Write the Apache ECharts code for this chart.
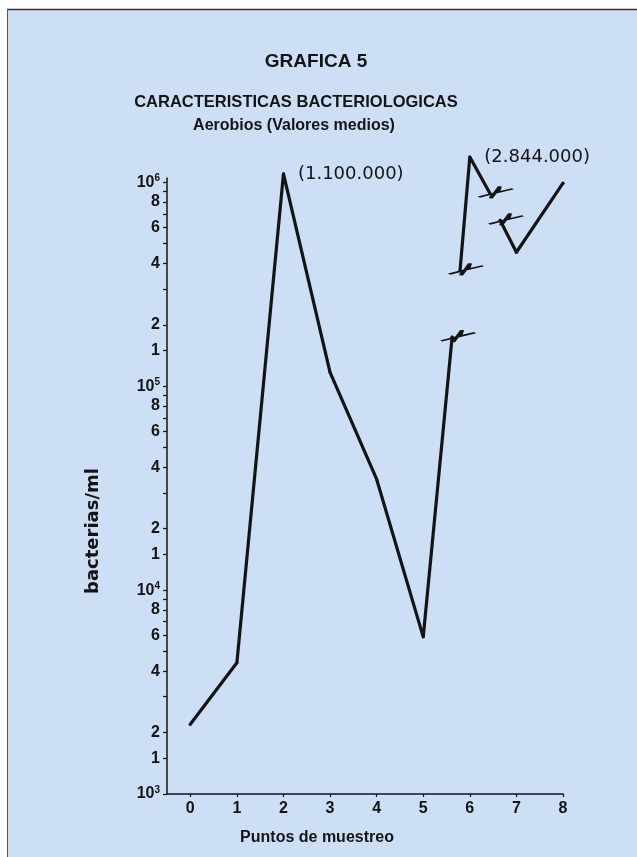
<!DOCTYPE html>
<html><head><meta charset="utf-8">
<script src="https://cdn.jsdelivr.net/npm/echarts@6/dist/echarts.min.js"></script>
<style>html,body{margin:0;padding:0;background:#fff}#c{width:637px;height:857px}</style>
</head><body><div id="c"></div>
<script>
// ---- data ----
const mainX = [0, 1, 2, 3, 4, 5, 5.62];
const mainY = [2200, 4400, 1100000, 117000, 35000, 5900, 174000];
const upperX = [5.79, 6, 6.43];
const upperY = [370000, 1330000, 883000];
const rightX = [6.65, 7, 8];
const rightY = [651000, 454000, 990000];
const breakX = [5.62, 5.79, 6.43, 6.65];
const breakY = [174000, 370000, 883000, 651000];
const peakText = ['(1.100.000)', '(2.844.000)'];
const xTicks = [0, 1, 2, 3, 4, 5, 6, 7, 8];
const yTickValues = [1000,1500,2000,3000,4000,5000,6000,7000,8000,9000,
  10000,15000,20000,30000,40000,50000,60000,70000,80000,90000,
  100000,150000,200000,300000,400000,500000,600000,700000,800000,900000,1000000];
const yLabelValues = [1000,1500,2000,4000,6000,8000,10000,15000,20000,40000,60000,80000,
  100000,150000,200000,400000,600000,800000,1000000];
const yLabelTexts = ['10^3','1','2','4','6','8','10^4','1','2','4','6','8',
  '10^5','1','2','4','6','8','10^6'];

const INK = '#141414';
const FONT = '"Liberation Sans", Arial, sans-serif';

const lineStyle = {color: INK, width: 3.2, cap: 'round', join: 'round'};
const peakLabel = (txt) => ({
  show: true, position: 'right', distance: 13, formatter: txt,
  fontFamily: '"DejaVu Sans", sans-serif', fontSize: 18, color: INK
});

const mainData = mainX.map((x, i) => i === 2 ? {value: [x, mainY[i]], label: peakLabel(peakText[0])} : [x, mainY[i]]);
const upperData = upperX.map((x, i) => i === 1 ? {value: [x, upperY[i]], label: peakLabel(peakText[1])} : [x, upperY[i]]);
const rightData = rightX.map((x, i) => [x, rightY[i]]);
const breakData = breakX.map((x, i) => [x, breakY[i]]);

function yFmt(v) {
  let best = 0, bd = 1e9;
  yLabelValues.forEach((t, i) => {
    const d = Math.abs(Math.log10(t) - Math.log10(v));
    if (d < bd) { bd = d; best = i; }
  });
  const s = yLabelTexts[best];
  if (s.indexOf('10^') === 0) return '{b|10}{s|' + s.slice(3) + '}';
  return '{b|' + s + '}';
}

const lineBase = {
  type: 'line', showSymbol: true, symbol: 'circle', symbolSize: 3,
  itemStyle: {color: INK}, lineStyle: lineStyle, clip: false, z: 3,
  label: {show: false}, emphasis: {disabled: true}, silent: true
};

const chart = echarts.init(document.getElementById('c'), null, {renderer: 'canvas'});
chart.setOption({
  animation: false,
  backgroundColor: '#cddff4',
  grid: {left: 167, right: 74, top: 178, bottom: 63, containLabel: false},
  xAxis: {
    type: 'value', min: -0.5, max: 8,
    axisLine: {show: true, onZero: false, lineStyle: {color: INK, width: 1.5}},
    axisTick: {show: true, customValues: xTicks, length: 3, lineStyle: {color: INK, width: 1.2}},
    axisLabel: {customValues: xTicks, fontFamily: FONT, fontWeight: 'bold', fontSize: 16, color: INK, margin: 7},
    splitLine: {show: false}
  },
  yAxis: {
    type: 'log', logBase: 10, min: 1000, max: 1050000,
    axisLine: {show: true, onZero: false, lineStyle: {color: INK, width: 1.5}},
    axisTick: {show: true, customValues: yTickValues, length: 4, lineStyle: {color: INK, width: 1.2}},
    axisLabel: {
      customValues: yLabelValues, formatter: yFmt, margin: 7,
      rich: {
        b: {fontFamily: FONT, fontWeight: 'bold', fontSize: 16, color: INK, lineHeight: 18},
        s: {fontFamily: FONT, fontWeight: 'bold', fontSize: 10, color: INK, verticalAlign: 'top', lineHeight: 10}
      }
    },
    splitLine: {show: false}, minorTick: {show: false}
  },
  graphic: [
    {type: 'rect', shape: {x: 0, y: 0, width: 637, height: 9}, style: {fill: '#ffffff'}},
    {type: 'rect', shape: {x: 0, y: 0, width: 7, height: 857}, style: {fill: '#ffffff'}},
    {type: 'line', shape: {x1: 7, y1: 9.5, x2: 637, y2: 9.5}, style: {stroke: '#333', lineWidth: 1.5}},
    {type: 'line', shape: {x1: 7.5, y1: 9, x2: 7.5, y2: 857}, style: {stroke: '#555', lineWidth: 1}},
    {type: 'text', x: 316, y: 62, style: {text: 'GRAFICA 5', font: 'bold 19px ' + FONT, fill: INK, textAlign: 'center', textVerticalAlign: 'middle'}},
    {type: 'text', x: 296, y: 102, style: {text: 'CARACTERISTICAS BACTERIOLOGICAS', font: 'bold 16.5px ' + FONT, fill: INK, textAlign: 'center', textVerticalAlign: 'middle'}},
    {type: 'text', x: 294, y: 126, style: {text: 'Aerobios (Valores medios)', font: 'bold 16px ' + FONT, fill: INK, textAlign: 'center', textVerticalAlign: 'middle'}},
    {type: 'text', x: 93, y: 531, rotation: Math.PI / 2, style: {text: 'bacterias/ml', font: 'bold 18px "DejaVu Sans", sans-serif', fill: INK, textAlign: 'center', textVerticalAlign: 'middle'}},
    {type: 'text', x: 317, y: 838, style: {text: 'Puntos de muestreo', font: 'bold 16px ' + FONT, fill: INK, textAlign: 'center', textVerticalAlign: 'middle'}}
  ],
  series: [
    Object.assign({}, lineBase, {data: mainData}),
    Object.assign({}, lineBase, {data: upperData}),
    Object.assign({}, lineBase, {data: rightData}),
    {
      type: 'scatter', data: breakData, z: 4, silent: true,
      symbol: 'path://M0 11 L14 8 L12 12 L21 2 L19 7 L34 4',
      symbolSize: [34, 12], symbolOffset: [6, -1],
      itemStyle: {color: 'transparent', borderColor: INK, borderWidth: 2.4, opacity: 1},
      emphasis: {disabled: true}
    }
  ]
});
</script></body></html>
